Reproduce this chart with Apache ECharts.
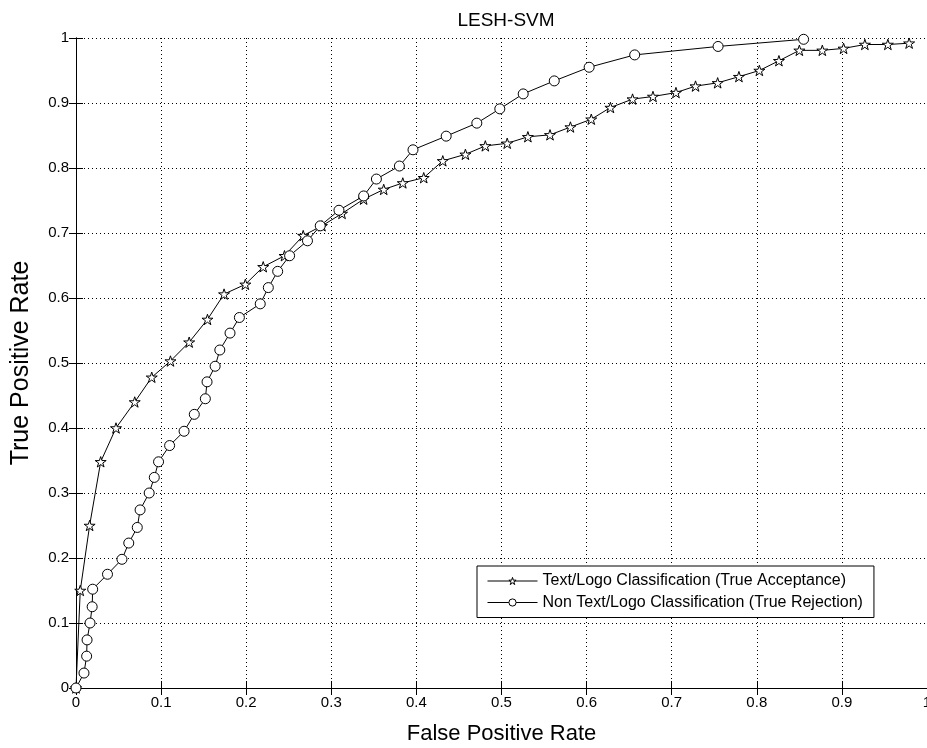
<!DOCTYPE html>
<html>
<head>
<meta charset="utf-8">
<title>LESH-SVM</title>
<script src="https://cdn.jsdelivr.net/npm/echarts@6/dist/echarts.min.js"></script>
<style>
  html, body { margin: 0; padding: 0; background: #fff; }
  #chart { width: 927px; height: 748px; }
</style>
</head>
<body>
<div id="chart"></div>
<script>
// ROC curve: Text/Logo classification (true acceptance)
const textFpr = [0, 0.005, 0.016, 0.029, 0.047, 0.069, 0.089, 0.111, 0.133, 0.1545, 0.174, 0.199,
  0.220, 0.245, 0.267, 0.289, 0.3126, 0.338, 0.3616, 0.384, 0.4086, 0.431, 0.4576, 0.481, 0.5067,
  0.531, 0.557, 0.581, 0.6055, 0.628, 0.654, 0.678, 0.705, 0.728, 0.754, 0.779, 0.803, 0.826,
  0.850, 0.877, 0.902, 0.927, 0.954, 0.979];
const textTpr = [0, 0.15, 0.25, 0.348, 0.40, 0.44, 0.478, 0.503, 0.532, 0.567, 0.606, 0.621,
  0.648, 0.665, 0.696, 0.711, 0.730, 0.752, 0.767, 0.777, 0.785, 0.811, 0.821, 0.834, 0.838,
  0.848, 0.851, 0.863, 0.875, 0.893, 0.906, 0.910, 0.916, 0.926, 0.931, 0.9405, 0.950, 0.965,
  0.981, 0.981, 0.984, 0.990, 0.990, 0.992];

// ROC curve: Non Text/Logo classification (true rejection)
const nonTextFpr = [0, 0.0094, 0.0125, 0.013, 0.0165, 0.019, 0.0196, 0.037, 0.054, 0.062, 0.072,
  0.0753, 0.086, 0.092, 0.097, 0.110, 0.127, 0.139, 0.152, 0.154, 0.1635, 0.169, 0.181, 0.192,
  0.2165, 0.226, 0.237, 0.251, 0.272, 0.287, 0.309, 0.338, 0.353, 0.380, 0.396, 0.435, 0.471,
  0.498, 0.5255, 0.562, 0.603, 0.6565, 0.7545, 0.855];
const nonTextTpr = [0, 0.023, 0.049, 0.074, 0.10, 0.125, 0.152, 0.175, 0.198, 0.223, 0.247,
  0.274, 0.300, 0.324, 0.348, 0.373, 0.395, 0.421, 0.445, 0.471, 0.495, 0.520, 0.546, 0.570,
  0.591, 0.616, 0.641, 0.665, 0.688, 0.711, 0.735, 0.757, 0.783, 0.803, 0.828, 0.849, 0.869,
  0.891, 0.914, 0.934, 0.955, 0.974, 0.987, 0.998];

const seriesNames = [
  'Text/Logo Classification (True Acceptance)',
  'Non Text/Logo Classification (True Rejection)'
];

const FONT = '"Liberation Sans", Arial, Helvetica, sans-serif';
// outlined five-pointed star marker
const STAR = 'path://M100,0L122.45,69.1L195.1,69.1L136.3,111.8L158.8,180.9L100,138.2L41.2,180.9L63.7,111.8L4.9,69.1L77.55,69.1Z';

function pairs(xs, ys) {
  return xs.map((x, i) => [x, ys[i]]);
}

const gridDots = { color: '#000', width: 1, type: [1, 3] };
const boxLine = { show: true, lineStyle: { color: '#000', width: 1 } };
const inTicks = { show: true, inside: true, length: 7, lineStyle: { color: '#000' } };
const hollowMarker = { color: '#fff', borderColor: '#000', borderWidth: 1 };

const chart = echarts.init(document.getElementById('chart'), null, { renderer: 'canvas' });
chart.setOption({
  animation: false,
  backgroundColor: '#fff',
  textStyle: { fontFamily: FONT },
  title: {
    text: 'LESH-SVM',
    left: 501,
    textAlign: 'center',
    top: 6,
    textStyle: { fontFamily: FONT, fontSize: 19, fontWeight: 'normal', color: '#000' }
  },
  grid: { left: 76, top: 38, right: 0, bottom: 60, containLabel: false, outerBoundsMode: 'none' },
  xAxis: [{
    type: 'value', min: 0, max: 1, interval: 0.1,
    name: 'False Positive Rate', nameLocation: 'middle', nameGap: 35,
    nameTextStyle: { fontFamily: FONT, fontSize: 22, color: '#000' },
    axisLine: boxLine,
    axisTick: inTicks,
    axisLabel: { fontFamily: FONT, fontSize: 15, color: '#000', margin: 7 },
    splitLine: { show: true, lineStyle: gridDots }
  }, {
    type: 'value', min: 0, max: 1, interval: 0.1, position: 'top',
    axisLine: boxLine,
    axisTick: inTicks,
    axisLabel: { show: false },
    splitLine: { show: false }
  }],
  yAxis: [{
    type: 'value', min: 0, max: 1, interval: 0.1,
    name: 'True Positive Rate', nameLocation: 'middle', nameGap: 42,
    nameTextStyle: { fontFamily: FONT, fontSize: 25, color: '#000' },
    axisLine: boxLine,
    axisTick: inTicks,
    axisLabel: { fontFamily: FONT, fontSize: 15, color: '#000', margin: 7 },
    splitLine: { show: true, lineStyle: gridDots }
  }, {
    type: 'value', min: 0, max: 1, interval: 0.1, position: 'right',
    axisLine: boxLine,
    axisTick: inTicks,
    axisLabel: { show: false },
    splitLine: { show: false }
  }],
  legend: {
    orient: 'vertical',
    left: 477,
    top: 566,
    backgroundColor: '#fff',
    borderColor: '#000',
    borderWidth: 1,
    padding: [6, 11, 6, 10],
    itemWidth: 50,
    itemHeight: 9,
    itemGap: 3.5,
    itemStyle: hollowMarker,
    lineStyle: { color: '#000', width: 1 },
    textStyle: { fontFamily: FONT, fontSize: 16, color: '#000', lineHeight: 18 },
    data: seriesNames
  },
  series: [{
    name: seriesNames[0],
    type: 'line',
    data: pairs(textFpr, textTpr),
    symbol: STAR,
    symbolKeepAspect: true,
    symbolSize: 11,
    showAllSymbol: true,
    lineStyle: { color: '#000', width: 1 },
    itemStyle: hollowMarker,
    emphasis: { disabled: true },
    z: 3
  }, {
    name: seriesNames[1],
    type: 'line',
    data: pairs(nonTextFpr, nonTextTpr),
    symbol: 'circle',
    symbolSize: 10,
    showAllSymbol: true,
    lineStyle: { color: '#000', width: 1 },
    itemStyle: hollowMarker,
    emphasis: { disabled: true },
    z: 3
  }]
});
</script>
</body>
</html>
